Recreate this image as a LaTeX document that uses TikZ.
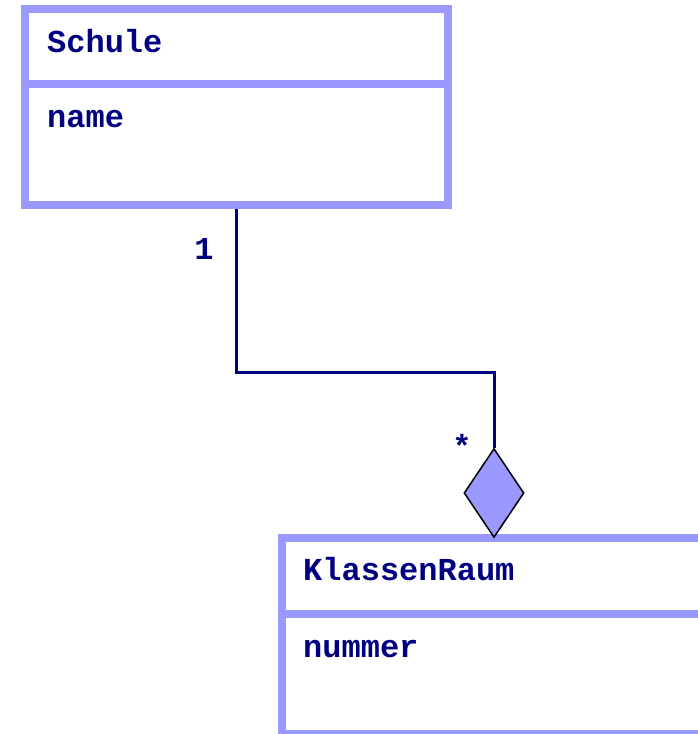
\documentclass[tikz,border=0pt]{standalone}
\usepackage{fontspec}
\setmonofont{Liberation Mono}
\usepackage{tikz}
\usetikzlibrary{shapes.geometric}
\definecolor{umlrand}{RGB}{153,153,255}
\definecolor{umltext}{RGB}{0,0,128}

\begin{document}
\begin{tikzpicture}[x=1pt,y=-1pt,
    fach/.style={rectangle,draw=umlrand,line width=8pt,inner sep=0pt,anchor=north west},
    eintrag/.style={inner sep=0pt,anchor=base west,text=umltext,font=\fontsize{32}{36}\selectfont\ttfamily\bfseries},
    anzahl/.style={inner sep=0pt,text=umltext,font=\fontsize{32}{36}\selectfont\ttfamily\bfseries},
    raute/.style={diamond,draw=black,fill=umlrand,line width=1.5pt,inner sep=0pt,minimum width=60pt,minimum height=89pt},
    verbindung/.style={draw=umltext,line width=3pt}]
      \useasboundingbox (0,0) rectangle (698,734);
      \clip (0,0) rectangle (698,734);
      % Klasse Schule
      \node [fach,minimum width=423pt,minimum height=75pt]  (schulekopf) at (21,5) {};
      \node [fach,minimum width=423pt,minimum height=121pt] (schulerumpf) at (21,80) {};
      \node [eintrag] (schulename) at (47,52) {Schule};
      \node [eintrag] (schuleattr) at (47,127) {name};
      % Klasse KlassenRaum
      \node [fach,minimum width=438pt,minimum height=76pt]  (raumkopf) at (278,534) {};
      \node [fach,minimum width=438pt,minimum height=120pt] (raumrumpf) at (278,610) {};
      \node [eintrag] (raumname) at (303,580) {KlassenRaum};
      \node [eintrag] (raumattr) at (303,657) {nummer};
      % Aggregation
      \node [raute] (aggr) at (494,493) {};
      \coordinate (knick) at (236.5,372);
      \draw [verbindung] (schulerumpf.south) -- (knick) -| (aggr.north);
      \node [anzahl] (eins) at (204,249) {1};
      \node [anzahl] (viele) at (462,446) {*};
\end{tikzpicture}
\end{document}
